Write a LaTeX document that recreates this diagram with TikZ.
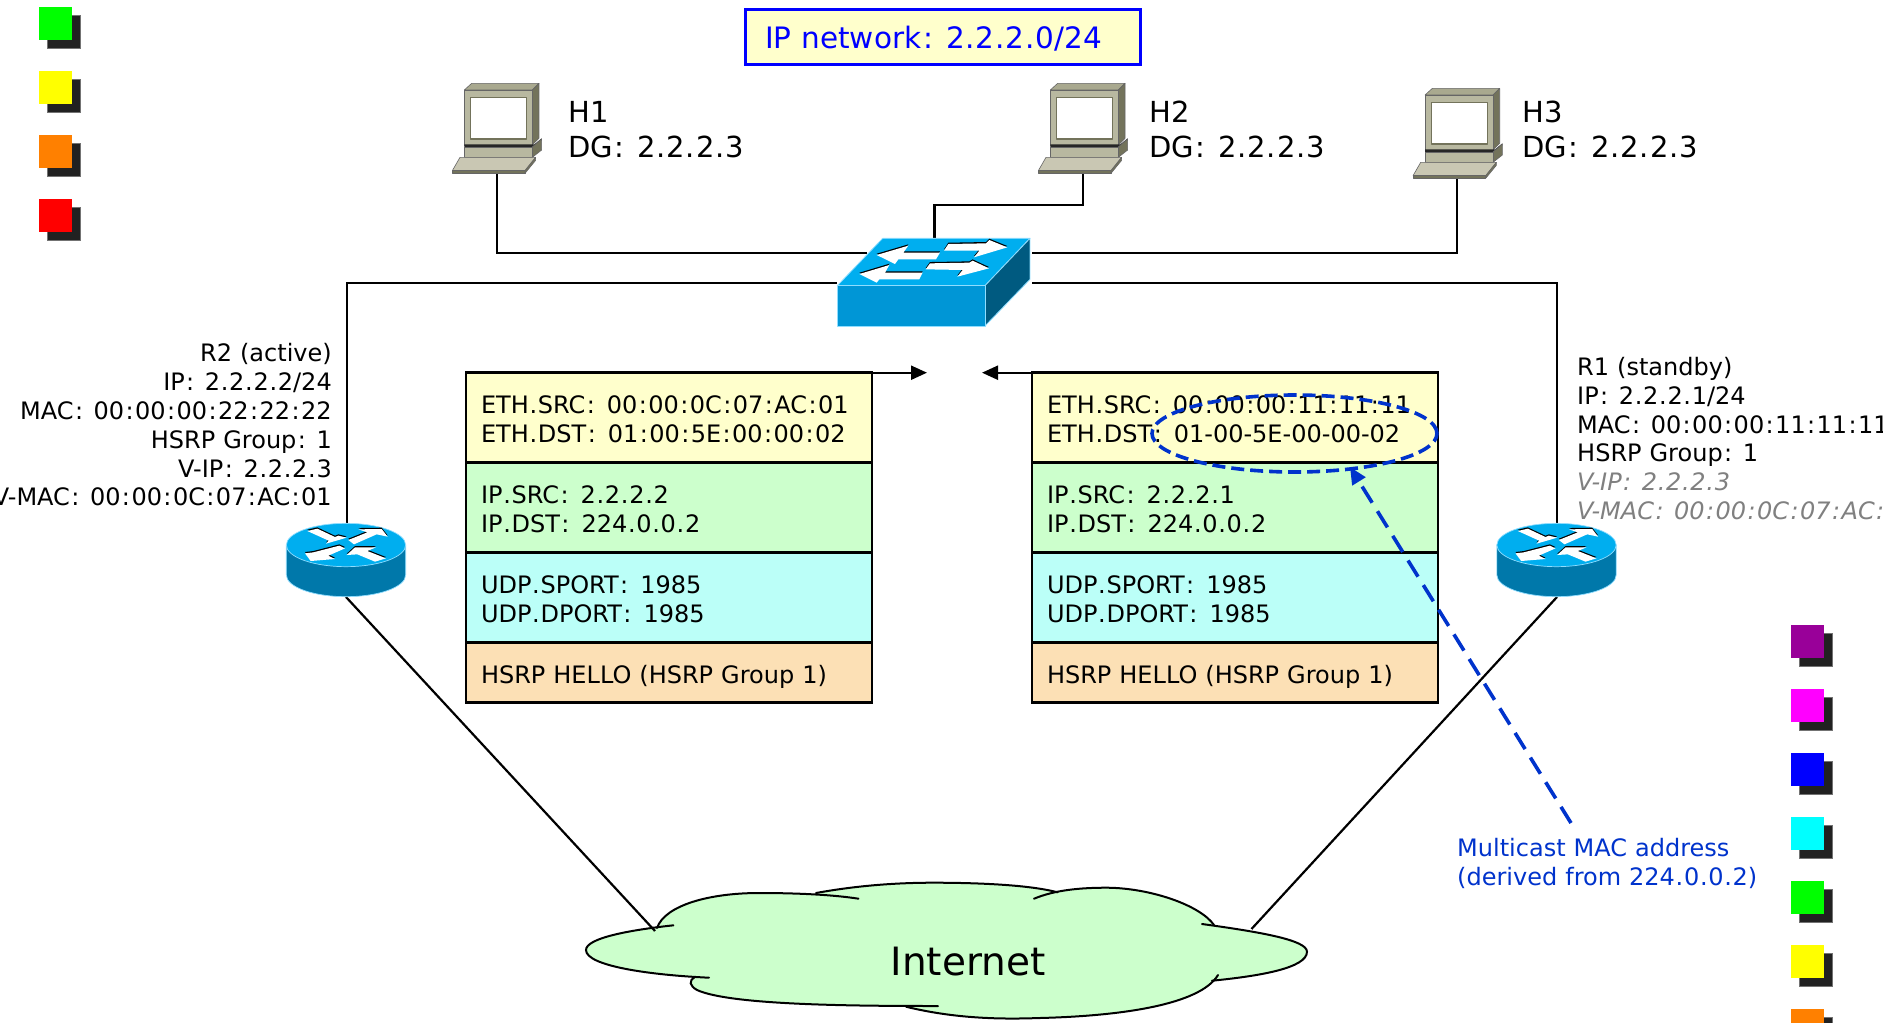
\documentclass[tikz,border=0pt]{standalone}
\usepackage{fontspec}
\setmainfont[WordSpace=1.05]{DejaVu Sans}
\usetikzlibrary{arrows.meta,shapes.geometric}
\XeTeXinterchartokenstate=1
\newXeTeXintercharclass\colonclass
\newXeTeXintercharclass\periodclass
\XeTeXcharclass`\:=\colonclass
\XeTeXcharclass`\.=\periodclass
\XeTeXinterchartoks 0 \colonclass={\kern .06em }
\XeTeXinterchartoks\colonclass 0={\kern .06em }
\XeTeXinterchartoks 0 \periodclass={\kern .03em }
\XeTeXinterchartoks\periodclass 0={\kern .03em }
\newcommand{\rowstrut}{\rule{0pt}{20.5pt}}
\definecolor{tblue}{HTML}{00AEEF}
\definecolor{fblue}{HTML}{0096D6}
\definecolor{sblue}{HTML}{005A80}
\definecolor{rblue}{HTML}{0078AA}
\definecolor{edgeblue}{HTML}{8FDDFF}
\definecolor{noteblue}{HTML}{0033CC}
\definecolor{pcy}{HTML}{FFFFCC}
\definecolor{pgr}{HTML}{CCFFCC}
\definecolor{pcn}{HTML}{BBFFF8}
\definecolor{por}{HTML}{FCE0B5}
\definecolor{hosttop}{HTML}{A9A98F}
\definecolor{hostside}{HTML}{73735B}
\definecolor{hostfront}{HTML}{B8B8A0}
\definecolor{hostkey}{HTML}{C9C7B3}
\definecolor{lgpurple}{HTML}{990099}
\definecolor{lgorange}{HTML}{FF8000}
\definecolor{lgmagenta}{HTML}{FF00FF}
\definecolor{lgcyan}{HTML}{00FFFF}
\definecolor{lgyellow}{HTML}{FFFF00}
\definecolor{lggreen}{HTML}{00FF00}
\definecolor{lgred}{HTML}{FF0000}
\definecolor{lgblue}{HTML}{0000FF}
\newcommand{\whitearrow}[1]{%
  \fill[black,yshift=1.3pt] #1 -- cycle;
  \fill[white] #1 -- cycle;}
\tikzset{
  x=1pt,y=-1pt,
  link/.style={draw=black,line width=2.2pt},
  rowbox/.style={draw=black,line width=2.6pt,anchor=north west,outer sep=0pt,minimum width=406pt,minimum height=#1,
    text width=376pt,inner xsep=15pt,inner ysep=0pt,align=left,font=\fontsize{24}{29}\selectfont},
  lbl/.style={inner sep=0pt,anchor=base west,font=\fontsize{24}{29}\selectfont},
  lblr/.style={inner sep=0pt,anchor=base east,font=\fontsize{24}{29}\selectfont},
  hlbl/.style={inner sep=0pt,anchor=base west,font=\fontsize{29}{35}\selectfont},
  sqshadow/.style={fill=black!87,draw=black!55,line width=1pt},
  pics/sq/.style={code={
    \filldraw[sqshadow] (8,8) rectangle (41,41);
    \fill[#1] (0,0) rectangle (33,33);
  }},
  pics/computer/.style={code={
    \begin{scope}[x=0.3333pt,y=-0.3333pt,line width=0.6pt,line join=round,draw=black!60]
      \filldraw[fill=hosttop] (58,45) -- (80,25) -- (282,25) -- (262,45) -- cycle;
      \filldraw[fill=hostside] (262,45) -- (282,25) -- (282,190) -- (262,210) -- cycle;
      \filldraw[fill=hostfront] (58,45) rectangle (262,210);
      \filldraw[fill=white,draw=hostside,line width=1.4pt] (77,68) rectangle (245,192);
      \fill[black!85] (58,208) -- (268,208) -- (290,190) -- (290,196) -- (268,216) -- (58,216) -- cycle;
      \filldraw[fill=hostside] (262,216) -- (290,192) -- (290,225) -- (262,247) -- cycle;
      \filldraw[fill=hostfront] (58,216) rectangle (262,247);
      \filldraw[fill=hostkey] (45,247) -- (272,247) -- (240,287) -- (22,287) -- cycle;
      \filldraw[fill=hostside] (22,287) -- (240,287) -- (240,295) -- (22,295) -- cycle;
      \filldraw[fill=hostside] (272,247) -- (272,256) -- (240,295) -- (240,287) -- cycle;
    \end{scope}
  }},
  pics/router/.style={code={
    \begin{scope}[x=0.3333pt,y=-0.3333pt]
      \filldraw[fill=rblue,draw=edgeblue,line width=0.7pt] (-179,0) -- (-179,90) arc[start angle=180,end angle=0,x radius=179,y radius=65] -- (179,0) -- cycle;
      \filldraw[fill=tblue,draw=edgeblue,line width=0.7pt] (0,0) ellipse[x radius=179,y radius=65];
      \whitearrow{(-116,-42) -- (-86,-49) -- (-33,-24) -- (-23,-28) -- (2,-22) -- (-60,-4) -- (-52,-13)}
      \whitearrow{(7,-15) -- (64,-38) -- (37,-47) -- (107,-48) -- (125,-25) -- (92,-32) -- (24,-2)}
      \whitearrow{(-123,25) -- (-98,22) -- (-20,2) -- (-3,10) -- (-53,32) -- (-33,42) -- (-106,48)}
      \whitearrow{(2,30) -- (27,7) -- (90,7) -- (64,18) -- (120,40) -- (87,50) -- (34,28)}
    \end{scope}
  }}
}
\begin{document}
\begin{tikzpicture}[x=1pt,y=-1pt]
\clip (0,0) rectangle (1883,1023);
\fill[white] (0,0) rectangle (1883,1023);

% legend squares
\pic at (39,7) {sq=lggreen};
\pic at (39,71) {sq=lgyellow};
\pic at (39,135) {sq=lgorange};
\pic at (39,199) {sq=lgred};
\pic at (1791,625) {sq=lgpurple};
\pic at (1791,689) {sq=lgmagenta};
\pic at (1791,753) {sq=lgblue};
\pic at (1791,817) {sq=lgcyan};
\pic at (1791,881) {sq=lggreen};
\pic at (1791,945) {sq=lgyellow};
\pic at (1791,1009) {sq=lgorange};

% title
\node[draw=blue,fill=pcy,line width=2.2pt,outer sep=0pt,minimum width=395pt,minimum height=55pt,inner sep=0pt,anchor=north west] (title) at (745.5,9.5) {};
\node[hlbl,text=blue,font=\fontsize{29.5}{35}\selectfont] (titletext) at (765,48) {IP network: 2.2.2.0/24};

% cloud
\fill[pgr] (657,928) .. controls (665,905) and (710,893) .. (759,893) .. controls (800,893) and (835,895) .. (858.5,898.7)
  -- (816,893) .. controls (860,885) and (900,882.7) .. (933,882.7) .. controls (980,882.7) and (1030,885) .. (1057.5,892.3)
  -- (1034,898.7) .. controls (1055,890) and (1080,887.7) .. (1107,887.7) .. controls (1150,888) and (1200,905) .. (1214,925)
  -- (1202,924) .. controls (1260,932) and (1307,940) .. (1307,951.7) .. controls (1307,968) and (1260,976) .. (1212,980.7)
  -- (1218,975) .. controls (1200,1005) and (1120,1016) .. (1040,1018) .. controls (1010,1019) and (960,1020) .. (906,1006.7)
  -- (938,1006) .. controls (850,1006) and (730,1005) .. (697,990) .. controls (690,986) and (688,981) .. (695,977)
  -- (709,977.7) .. controls (650,975) and (586,966) .. (586,950) .. controls (586,938) and (630,930) .. (673.4,925.3) -- cycle;
\begin{scope}[draw=black,line width=2pt,line cap=round]
  \draw (673.4,925.3) .. controls (630,930) and (586,938) .. (586,950) .. controls (586,966) and (650,975) .. (709,977.7);
  \draw (695,977) .. controls (688,981) and (690,986) .. (697,990) .. controls (730,1005) and (850,1006) .. (938,1006);
  \draw (906,1006.7) .. controls (960,1020) and (1010,1019) .. (1040,1018) .. controls (1120,1016) and (1200,1005) .. (1218,975);
  \draw (1202,924) .. controls (1260,932) and (1307,940) .. (1307,951.7) .. controls (1307,968) and (1260,976) .. (1212,980.7);
  \draw (1034,898.7) .. controls (1055,890) and (1080,887.7) .. (1107,887.7) .. controls (1150,888) and (1200,905) .. (1214,925);
  \draw (816,893) .. controls (860,885) and (900,882.7) .. (933,882.7) .. controls (980,882.7) and (1030,885) .. (1057.5,892.3);
  \draw (657,928) .. controls (665,905) and (710,893) .. (759,893) .. controls (800,893) and (835,895) .. (858.5,898.7);
\end{scope}
\node[inner sep=0pt,anchor=base,font=\fontsize{39}{44}\selectfont] (internet) at (968,975) {Internet};

% hosts and links
\coordinate (h1port) at (497,173);
\coordinate (h2port) at (1083,173);
\coordinate (h3port) at (1457,178);
\coordinate (swh1) at (867,252.7);
\coordinate (swh2) at (934.5,238);
\coordinate (swh3) at (1032,252.7);
\coordinate (swr2) at (837,283);
\coordinate (swr1) at (1032,283);
\coordinate (r2top) at (347,523);
\coordinate (r1top) at (1557,523);
\coordinate (r2bot) at (346,597);
\coordinate (r1bot) at (1557,597);
\coordinate (cloudl) at (655,931);
\coordinate (cloudr) at (1251.5,929);
\coordinate (h2bend) at (1083,205);
\draw[link] (h1port) |- (swh1);
\draw[link] (h2port) -- (h2bend) -| (swh2);
\draw[link] (h3port) |- (swh3);
\draw[link] (swr2) -| (r2top);
\draw[link] (swr1) -| (r1top);
\draw[link] (r2bot) -- (cloudl);
\draw[link] (r1bot) -- (cloudr);

\pic at (445,75) {computer};
\pic at (1031,75) {computer};
\pic at (1405.7,80) {computer};
\node[hlbl] (h1a) at (568,122.5) {H1};
\node[hlbl] (h1b) at (568,157.5) {DG: 2.2.2.3};
\node[hlbl] (h2a) at (1149,122.5) {H2};
\node[hlbl] (h2b) at (1149,157.5) {DG: 2.2.2.3};
\node[hlbl] (h3a) at (1522,122.5) {H3};
\node[hlbl] (h3b) at (1522,157.5) {DG: 2.2.2.3};

% switch
\begin{scope}[shift={(830,230)},x=0.3333pt,y=-0.3333pt,line join=round]
  \filldraw[fill=tblue,draw=edgeblue,line width=0.8pt] (22,167) -- (158,25) -- (600,25) -- (465,167) -- cycle;
  \filldraw[fill=sblue,draw=edgeblue,line width=0.8pt] (465,167) -- (600,25) -- (600,148) -- (465,288) -- cycle;
  \filldraw[fill=fblue,draw=edgeblue,line width=0.8pt] (22,167) rectangle (465,288);
  \whitearrow{(140,75) -- (235,47) -- (220,68) -- (330,68) -- (318,88) -- (205,88) -- (195,102)}
  \whitearrow{(532,52) -- (478,30) -- (468,40) -- (355,42) -- (342,62) -- (448,62) -- (432,82)}
  \whitearrow{(88,132) -- (178,105) -- (165,128) -- (278,128) -- (268,148) -- (148,148) -- (140,158)}
  \whitearrow{(477,115) -- (428,92) -- (418,98) -- (300,100) -- (287,118) -- (398,120) -- (382,140)}
\end{scope}

% routers
\pic at (346,545) {router};
\pic at (1556.5,545) {router};

% router labels
\node[lblr] (r2a) at (332,361) {R2 (active)};
\node[lblr] (r2b) at (332,390) {IP: 2.2.2.2/24};
\node[lblr] (r2c) at (332,419) {MAC: 00:00:00:22:22:22};
\node[lblr] (r2d) at (332,448) {HSRP Group: 1};
\node[lblr] (r2e) at (332,477) {V-IP: 2.2.2.3};
\node[lblr] (r2f) at (332,505) {V-MAC: 00:00:0C:07:AC:01};
\node[lbl] (r1a) at (1577,375.5) {R1 (standby)};
\node[lbl] (r1b) at (1577,404) {IP: 2.2.2.1/24};
\node[lbl] (r1c) at (1577,433) {MAC: 00:00:00:11:11:11};
\node[lbl] (r1d) at (1577,461) {HSRP Group: 1};
\node[lbl,text=black!50,font=\fontsize{24}{29}\selectfont\itshape] (r1e) at (1577,490) {V-IP: 2.2.2.3};
\node[lbl,text=black!50,font=\fontsize{24}{29}\selectfont\itshape] (r1f) at (1577,519) {V-MAC: 00:00:0C:07:AC:01};

% packet left
\node[rowbox=90pt,fill=pcy] (la) at (466,372.7) {\rowstrut ETH.SRC: 00:00:0C:07:AC:01\\ETH.DST: 01:00:5E:00:00:02};
\node[rowbox=90pt,fill=pgr] (lb) at (466,462.7) {\rowstrut IP.SRC: 2.2.2.2\\IP.DST: 224.0.0.2};
\node[rowbox=90pt,fill=pcn] (lc) at (466,552.7) {\rowstrut UDP.SPORT: 1985\\UDP.DPORT: 1985};
\node[rowbox=60pt,fill=por,text height=24.6pt,text depth=4pt] (ld) at (466,642.7) {HSRP HELLO (HSRP Group 1)};
% packet right
\node[rowbox=90pt,fill=pcy] (ra) at (1032,372.7) {\rowstrut ETH.SRC: 00:00:00:11:11:11\\ETH.DST: 01-00-5E-00-00-02};
\node[rowbox=90pt,fill=pgr] (rb) at (1032,462.7) {\rowstrut IP.SRC: 2.2.2.1\\IP.DST: 224.0.0.2};
\node[rowbox=90pt,fill=pcn] (rc) at (1032,552.7) {\rowstrut UDP.SPORT: 1985\\UDP.DPORT: 1985};
\node[rowbox=60pt,fill=por,text height=24.6pt,text depth=4pt] (rd) at (1032,642.7) {HSRP HELLO (HSRP Group 1)};

\coordinate (lhead) at (927,372.7);
\coordinate (rhead) at (982,372.7);
\draw[link,-{Stealth[length=16pt,width=14pt,inset=0pt]}] (la.north east) -- (lhead);
\draw[link,-{Stealth[length=16pt,width=14pt,inset=0pt]}] (ra.north west) -- (rhead);

% highlight
\node[draw=noteblue,line width=3.6pt,dash pattern=on 13pt off 6pt,ellipse,minimum width=285pt,minimum height=77pt,inner sep=0pt,outer sep=0pt] (mark) at (1294.5,433.5) {};
\node[inner sep=0pt,anchor=base west,text=noteblue,font=\fontsize{24}{29}\selectfont] (notea) at (1457,856) {Multicast MAC address};
\node[inner sep=0pt,anchor=base west,text=noteblue,font=\fontsize{24}{29}\selectfont] (noteb) at (1457,885) {(derived from 224.0.0.2)};
\coordinate (notestart) at (1571,823);
\coordinate (marktip) at (1350,467);
\draw[draw=noteblue,line width=3.6pt,dash pattern=on 19pt off 10pt,-{Stealth[length=17pt,width=15pt,inset=0pt]}] (notestart) -- (marktip);
\end{tikzpicture}
\end{document}
